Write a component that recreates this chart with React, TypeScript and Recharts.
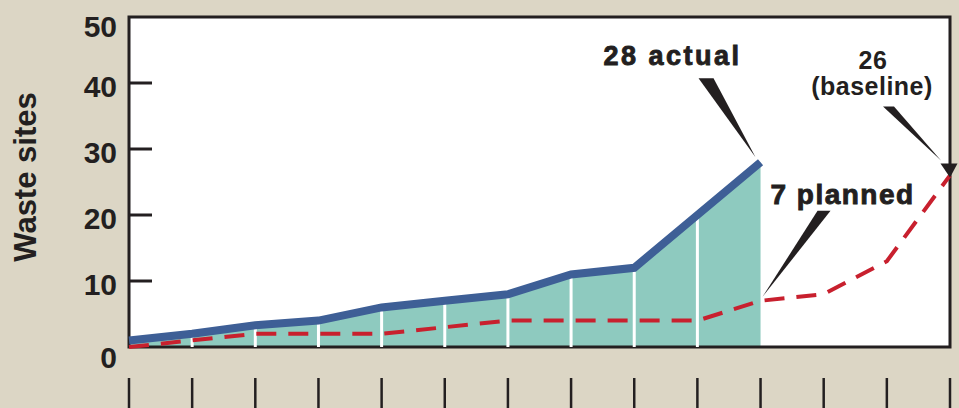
import { Area, ComposedChart, Line, ReferenceArea, ReferenceDot, ReferenceLine, XAxis, YAxis } from 'recharts'

const periods = [0, 1, 2, 3, 4, 5, 6, 7, 8, 9, 10, 11, 12, 13]
const actualSites = [1, 2, 3.3, 4, 6, 7, 8, 11, 12, 20, 28]
const plannedSites = [0, 1, 2, 2, 2, 3, 4, 4, 4, 4, 7, 8, 13, 26]
const yTicks = [0, 10, 20, 30, 40, 50]

const data = periods.map((p, i) => ({ p, actual: actualSites[i], planned: plannedSites[i] }))

const ink = '#231f20'
const font = '"Liberation Sans", Arial, Helvetica, sans-serif'

function YTick(props: any) {
  const { x, y, payload } = props
  const v = payload.value
  const dy = v === 0 ? 21 : v === 50 ? 20 : 14
  return (
    <g>
      {v > 0 && v < 50 && <line x1={x + 12} x2={x + 35} y1={y} y2={y} stroke={ink} strokeWidth={3} />}
      <text x={x} y={y + dy} textAnchor="end" fontFamily={font} fontWeight="bold" fontSize={30} fill={ink}>
        {v}
      </text>
    </g>
  )
}

function XTick(props: any) {
  const { x, y } = props
  return <line x1={x} x2={x} y1={y + 31} y2={y + 64} stroke={ink} strokeWidth={2.5} />
}

function Title() {
  return (
    <text x={25} y={177} transform="rotate(-90 25 177)" textAnchor="middle" dominantBaseline="central"
      fontFamily={font} fontWeight="bold" fontSize={31} fill={ink}>
      Waste sites
    </text>
  )
}

const heavy = { fontFamily: font, fontWeight: 900, fill: ink, stroke: ink, strokeWidth: 0.9 }

function ActualNote({ cx, cy }: any) {
  return (
    <g>
      <polygon points={`${cx - 62},${cy - 84} ${cx - 47},${cy - 84} ${cx - 5},${cy - 5}`} fill={ink} />
      <text x={cx - 88} y={cy - 97} textAnchor="middle" fontSize={27} letterSpacing={2.5} {...heavy}>28 actual</text>
    </g>
  )
}

function PlannedNote({ cx, cy }: any) {
  return (
    <g>
      <polygon points={`${cx + 57},${cy - 90} ${cx + 70},${cy - 90} ${cx + 2},${cy - 4}`} fill={ink} />
      <text x={cx + 82} y={cy - 97} textAnchor="middle" fontSize={28} letterSpacing={1.5} {...heavy}>7 planned</text>
    </g>
  )
}

function BaselineNote({ cx, cy }: any) {
  return (
    <g>
      <polygon points={`${cx - 67},${cy - 69} ${cx - 56},${cy - 69} ${cx - 9},${cy - 15}`} fill={ink} />
      <polygon points={`${cx - 9.5},${cy - 12} ${cx + 7.5},${cy - 12} ${cx},${cy + 2}`} fill={ink} />
      <text x={cx - 77} y={cy - 106} textAnchor="middle" fontFamily={font} fontWeight="bold" fontSize={25}
        letterSpacing={0.5} fill={ink}>26</text>
      <text x={cx - 78} y={cy - 80} textAnchor="middle" fontFamily={font} fontWeight="bold" fontSize={25}
        letterSpacing={0.5} fill={ink}>(baseline)</text>
    </g>
  )
}

export default function App() {
  return (
    <div style={{ position: 'absolute', left: 0, top: 0, width: 959, height: 408, background: '#dcd6c5', overflow: 'hidden' }}>
      <ComposedChart width={959} height={408} data={data} margin={{ top: 17, right: 9, bottom: 0, left: 0 }}>
        <XAxis dataKey="p" type="number" domain={[0, 13]} ticks={periods} axisLine={false} tickLine={false}
          tickSize={0} tickMargin={0} height={61} tick={<XTick />} />
        <YAxis domain={[0, 50]} ticks={yTicks} axisLine={false} tickLine={false} tickSize={0} tickMargin={12}
          width={129} tick={<YTick />} label={Title} />
        <ReferenceArea x1={0} x2={13} y1={0} y2={50} fill="#ffffff" fillOpacity={1} stroke="none" />
        <Area dataKey="actual" type="linear" fill="#8ecabf" fillOpacity={1} stroke="none" isAnimationActive={false} />
        {periods.slice(1, 10).map((p) => (
          <ReferenceLine key={p} segment={[{ x: p, y: 0 }, { x: p, y: actualSites[p] }]} stroke="#ffffff" strokeWidth={3} />
        ))}
        <Line dataKey="actual" type="linear" stroke="#3e5f96" strokeWidth={8} dot={false} isAnimationActive={false} />
        <Line dataKey="planned" type="linear" stroke="#c8202e" strokeWidth={4} strokeDasharray="20 12" dot={false}
          isAnimationActive={false} />
        <ReferenceArea x1={0} x2={13} y1={0} y2={50} fill="none" stroke={ink} strokeWidth={3} />
        <ReferenceDot x={10} y={actualSites[10]} r={0} shape={ActualNote} />
        <ReferenceDot x={10} y={plannedSites[10]} r={0} shape={PlannedNote} />
        <ReferenceDot x={13} y={plannedSites[13]} r={0} shape={BaselineNote} />
      </ComposedChart>
    </div>
  )
}
